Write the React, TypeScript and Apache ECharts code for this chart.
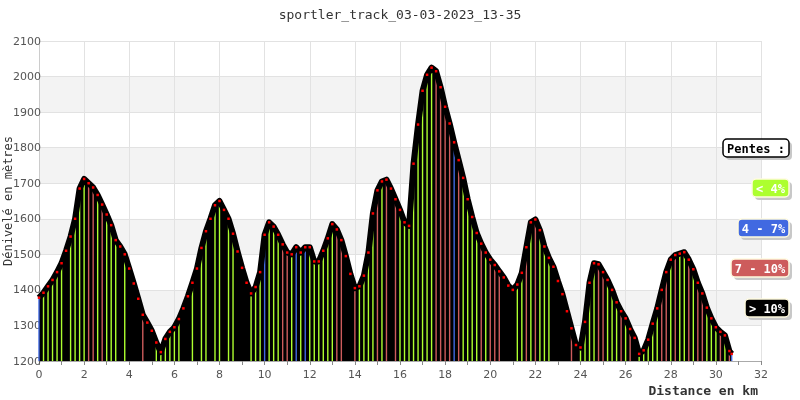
import React, { useEffect, useRef } from "react";
import * as echarts from "echarts";

const distances = [
  0, 0.2, 0.4, 0.6, 0.8, 1, 1.2, 1.4, 1.6, 1.8, 2, 2.2, 2.4, 2.6, 2.8, 3, 3.2, 3.4, 3.6, 3.8,
  4, 4.2, 4.4, 4.6, 4.8, 5, 5.2, 5.4, 5.6, 5.8, 6, 6.2, 6.4, 6.6, 6.8, 7, 7.2, 7.4, 7.6, 7.8,
  8, 8.2, 8.4, 8.6, 8.8, 9, 9.2, 9.4, 9.6, 9.8, 10, 10.2, 10.4, 10.6, 10.8, 11, 11.2, 11.4, 11.6, 11.8,
  12, 12.2, 12.4, 12.6, 12.8, 13, 13.2, 13.4, 13.6, 13.8, 14, 14.2, 14.4, 14.6, 14.8, 15, 15.2, 15.4, 15.6, 15.8,
  16, 16.2, 16.4, 16.6, 16.8, 17, 17.2, 17.4, 17.6, 17.8, 18, 18.2, 18.4, 18.6, 18.8, 19, 19.2, 19.4, 19.6, 19.8,
  20, 20.2, 20.4, 20.6, 20.8, 21, 21.2, 21.4, 21.6, 21.8, 22, 22.2, 22.4, 22.6, 22.8, 23, 23.2, 23.4, 23.6, 23.8,
  24, 24.2, 24.4, 24.6, 24.8, 25, 25.2, 25.4, 25.6, 25.8, 26, 26.2, 26.4, 26.6, 26.8, 27, 27.2, 27.4, 27.6, 27.8,
  28, 28.2, 28.4, 28.6, 28.8, 29, 29.2, 29.4, 29.6, 29.8, 30, 30.2, 30.4, 30.6, 30.7,
];

const elevations = [
  1378, 1392, 1410, 1428, 1450, 1475, 1510, 1550, 1600, 1685, 1712, 1700, 1688, 1667, 1640, 1612, 1582, 1540, 1522, 1500,
  1460, 1418, 1375, 1330, 1308, 1285, 1252, 1225, 1262, 1282, 1295, 1318, 1348, 1382, 1420, 1460, 1518, 1565, 1600, 1638,
  1650, 1625, 1600, 1558, 1508, 1462, 1420, 1390, 1408, 1450, 1555, 1590, 1578, 1555, 1528, 1505, 1500, 1520, 1505, 1520,
  1520, 1480, 1480, 1510, 1545, 1585, 1570, 1540, 1495, 1445, 1405, 1410, 1440, 1505, 1615, 1680, 1705, 1710, 1685, 1655,
  1625, 1590, 1580, 1755, 1865, 1960, 2005, 2025, 2015, 1970, 1915, 1868, 1815, 1765, 1715, 1655, 1605, 1560, 1530, 1505,
  1485, 1470, 1452, 1435, 1412, 1400, 1415, 1448, 1520, 1590, 1598, 1568, 1522, 1490, 1465, 1425, 1388, 1340, 1292, 1245,
  1238, 1310, 1420, 1475, 1472, 1450, 1428, 1400, 1365, 1340, 1320, 1290, 1265, 1220, 1230, 1260, 1305, 1348, 1400, 1450,
  1485, 1498, 1502, 1506, 1485, 1458, 1420, 1390, 1350, 1320, 1295, 1282, 1272, 1228, 1220,
];

// slope class of each point: g (< 4%), b (4 - 7%), r (7 - 10%), k (> 10%)
const slopeClasses = (
  "bgggg" + "gkggg" + "grrgr" + "gggkg" + "kkkrk" + "kgggg" + "ggkkg" + "kggkg" + "gkggk" + "kkggg" +
  "bgggr" + "rgbgb" + "ggggg" + "grrkk" + "rgggg" + "rgrkr" + "ggggg" + "gggrr" + "rrbrg" + "gggrg" +
  "rrrkk" + "kggrg" + "rgggk" + "kkkrk" + "ggggr" + "rgggr" + "grkgg" + "gggrr" + "grggr" + "grrgg" +
  "grgrb"
).split("");

const legendLabels = ["< 4%", "4 - 7%", "7 - 10%", "> 10%"];
const legendColors = ["#adff2f", "#4169e1", "#cd5c5c", "#000000"];
const classKeys = ["g", "b", "r", "k"];

const yTicks = [1200, 1300, 1400, 1500, 1600, 1700, 1800, 1900, 2000, 2100];

export default function App() {
  const ref = useRef<HTMLDivElement>(null);

  useEffect(() => {
    if (!ref.current) return;
    const chart = echarts.init(ref.current, null, { renderer: "svg" });
    const mono = "DejaVu Sans Mono";

    const profile = distances.map((d, i) => [d, elevations[i]]);
    const bars = distances.map((d, i) => ({
      value: [d, elevations[i]],
      itemStyle: { color: legendColors[classKeys.indexOf(slopeClasses[i])] },
    }));

    const legendBoxes: any[] = [];
    const boxDefs = [
      { text: "Pentes :", x: 723, y: 139, w: 66, fill: "#ffffff", stroke: "#000000", color: "#000000" },
      { text: legendLabels[0], x: 752, y: 179, w: 37, fill: legendColors[0], stroke: "#fffbe0", color: "#ffffff" },
      { text: legendLabels[1], x: 738, y: 219, w: 51, fill: legendColors[1], stroke: "#fffbe0", color: "#ffffff" },
      { text: legendLabels[2], x: 731, y: 259, w: 58, fill: legendColors[2], stroke: "#fffbe0", color: "#ffffff" },
      { text: legendLabels[3], x: 745, y: 299, w: 44, fill: legendColors[3], stroke: "#fffbe0", color: "#ffffff" },
    ];
    boxDefs.forEach((b) => {
      legendBoxes.push({
        type: "rect",
        shape: { x: b.x + 3, y: b.y + 3, width: b.w, height: 18, r: 4 },
        style: { fill: "#c8c8c8" },
        z: 10,
      });
      legendBoxes.push({
        type: "rect",
        shape: { x: b.x, y: b.y, width: b.w, height: 18, r: 4 },
        style: { fill: b.fill, stroke: b.stroke, lineWidth: 1.5 },
        z: 11,
      });
      legendBoxes.push({
        type: "text",
        x: b.x + b.w / 2,
        y: b.y + 9.5,
        style: {
          text: b.text,
          fill: b.color,
          font: `bold 12px ${mono}`,
          align: "center",
          verticalAlign: "middle",
        },
        z: 12,
      });
    });

    chart.setOption({
      animation: false,
      title: {
        text: "sportler_track_03-03-2023_13-35",
        left: "center",
        top: 3,
        textStyle: { fontFamily: mono, fontSize: 13, fontWeight: "normal", color: "#333" },
      },
      grid: { left: 39, right: 39, top: 41, bottom: 39 },
      xAxis: {
        type: "value",
        min: 0,
        max: 32,
        interval: 2,
        axisLine: { lineStyle: { color: "#aaa" } },
        axisTick: { show: true, length: 4, lineStyle: { color: "#888" } },
        minorTick: { show: true, splitNumber: 2, length: 4, lineStyle: { color: "#888" } },
        axisLabel: { fontFamily: "DejaVu Sans", fontSize: 11, color: "#555", margin: 8 },
        splitLine: { show: true, lineStyle: { color: "#e2e2e2" } },
      },
      yAxis: {
        type: "value",
        min: 1200,
        max: 2100,
        interval: 100,
        axisLine: { show: true, lineStyle: { color: "#ccc" } },
        axisTick: { show: false },
        axisLabel: {
          fontFamily: "DejaVu Sans",
          fontSize: 11,
          color: "#555",
          margin: -2,
          formatter: (v: number) => (yTicks.includes(v) ? String(v) : ""),
        },
        splitLine: { show: true, lineStyle: { color: "#e2e2e2" } },
        splitArea: { show: true, areaStyle: { color: ["#ffffff", "#f3f3f3"] } },
      },
      series: [
        {
          type: "line",
          data: profile,
          showSymbol: false,
          lineStyle: { width: 0 },
          areaStyle: { color: "#000000", opacity: 1, origin: "start" },
          z: 1,
        },
        {
          type: "bar",
          data: bars,
          barWidth: 1.4,
          z: 2,
        },
        {
          type: "line",
          data: profile,
          symbol: "rect",
          symbolSize: 2.5,
          showSymbol: true,
          itemStyle: { color: "#ff0000" },
          lineStyle: { color: "#000000", width: 6, join: "round" },
          z: 3,
        },
      ],
      graphic: [
        {
          type: "text",
          x: 8,
          y: 201,
          rotation: Math.PI / 2,
          style: {
            text: "Dénivelé en mètres",
            fill: "#333",
            font: `12px ${mono}`,
            align: "center",
            verticalAlign: "middle",
          },
        },
        {
          type: "text",
          x: 758,
          y: 390,
          style: {
            text: "Distance en km",
            fill: "#333",
            font: `bold 13px ${mono}`,
            align: "right",
            verticalAlign: "middle",
          },
        },
        ...legendBoxes,
      ],
    });

    return () => chart.dispose();
  }, []);

  return (
    <div
      ref={ref}
      style={{ position: "fixed", left: 0, top: 0, width: 800, height: 400 }}
    />
  );
}
